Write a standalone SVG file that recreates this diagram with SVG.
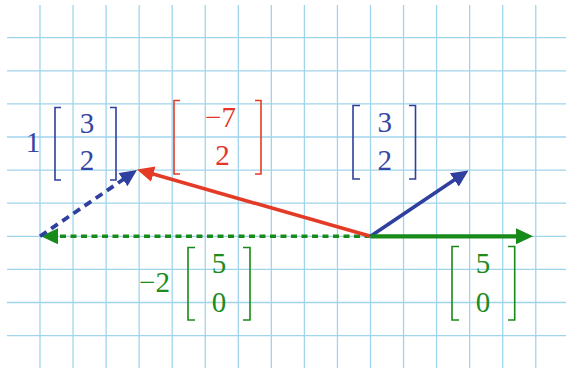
<svg xmlns="http://www.w3.org/2000/svg" width="566" height="368" viewBox="0 0 566 368">
<style>
.grid line{stroke:#9fd5ec;stroke-width:1.3}
.vec{fill:none;stroke-linecap:butt}
.blue{stroke:#2f3f9f}
.red{stroke:#e43b27}
.green{stroke:#188a1a}
.br{fill:none;stroke-width:1.6}
.lbl text{font-size:29px;text-anchor:middle}
.tb{fill:#3545a5}
.tr{fill:#e5352a}
.tg{fill:#1c8c1c}
</style>
<defs>
<marker id="ab" markerUnits="userSpaceOnUse" markerWidth="18" markerHeight="16" refX="2" refY="8" orient="auto" viewBox="0 0 18 16"><path d="M0,0 L17,8 L0,16 z" fill="#2f3f9f"/></marker>
<marker id="ar" markerUnits="userSpaceOnUse" markerWidth="18" markerHeight="16" refX="2" refY="8" orient="auto" viewBox="0 0 18 16"><path d="M0,0 L17,8 L0,16 z" fill="#e43b27"/></marker>
<marker id="ag" markerUnits="userSpaceOnUse" markerWidth="18" markerHeight="16" refX="2" refY="8" orient="auto" viewBox="0 0 18 16"><path d="M0,0 L17,8 L0,16 z" fill="#188a1a"/></marker>
</defs>
<rect width="566" height="368" fill="#fff"/>
<g id="grid" class="grid">
<line x1="40" y1="5" x2="40" y2="368"/>
<line x1="73.05" y1="5" x2="73.05" y2="368"/>
<line x1="106.1" y1="5" x2="106.1" y2="368"/>
<line x1="139.15" y1="5" x2="139.15" y2="368"/>
<line x1="172.2" y1="5" x2="172.2" y2="368"/>
<line x1="205.25" y1="5" x2="205.25" y2="368"/>
<line x1="238.3" y1="5" x2="238.3" y2="368"/>
<line x1="271.35" y1="5" x2="271.35" y2="368"/>
<line x1="304.4" y1="5" x2="304.4" y2="368"/>
<line x1="337.45" y1="5" x2="337.45" y2="368"/>
<line x1="370.5" y1="5" x2="370.5" y2="368"/>
<line x1="403.55" y1="5" x2="403.55" y2="368"/>
<line x1="436.6" y1="5" x2="436.6" y2="368"/>
<line x1="469.65" y1="5" x2="469.65" y2="368"/>
<line x1="502.7" y1="5" x2="502.7" y2="368"/>
<line x1="535.75" y1="5" x2="535.75" y2="368"/>
<line x1="7" y1="37.7" x2="566" y2="37.7"/>
<line x1="7" y1="70.8" x2="566" y2="70.8"/>
<line x1="7" y1="103.9" x2="566" y2="103.9"/>
<line x1="7" y1="137" x2="566" y2="137"/>
<line x1="7" y1="170.1" x2="566" y2="170.1"/>
<line x1="7" y1="203.2" x2="566" y2="203.2"/>
<line x1="7" y1="236.3" x2="566" y2="236.3"/>
<line x1="7" y1="269.4" x2="566" y2="269.4"/>
<line x1="7" y1="302.5" x2="566" y2="302.5"/>
<line x1="7" y1="335.6" x2="566" y2="335.6"/>
</g>
<g id="connectors">
<path class="vec green" d="M370.5,236.3 H56" stroke-width="3.5" stroke-dasharray="6,4.5" marker-end="url(#ag)"/>
<path class="vec blue" d="M40,236.3 L124.6,178.5" stroke-width="3.8" stroke-dasharray="8,5.5" marker-end="url(#ab)"/>
<path class="vec red" d="M370.5,236.3 L151.4,173.6" stroke-width="3.6" marker-end="url(#ar)"/>
<path class="vec blue" d="M370.5,236.3 L456,178.8" stroke-width="3.6" marker-end="url(#ab)"/>
<path class="vec green" d="M370.5,236.3 H518" stroke-width="4.2" marker-end="url(#ag)"/>
</g>
<g class="lbl" font-family="'Liberation Serif', 'Times New Roman', Times, serif">
<g id="label-1v">
<text class="tb" x="33" y="152">1</text>
<path class="br blue" d="M61,107.5 H55 V180 H61 M110,107.5 H116 V180 H110"/>
<text class="tb" x="87" y="133">3</text>
<text class="tb" x="87" y="170">2</text>
</g>
<g id="label-w">
<path class="br red" d="M180,100.5 H174 V174 H180 M255,100.5 H261 V174 H255"/>
<text class="tr" x="220.5" y="127">−7</text>
<text class="tr" x="222.5" y="165">2</text>
</g>
<g id="label-v">
<path class="br blue" d="M360,105.5 H353 V179 H360 M409,105.5 H415.5 V179 H409"/>
<text class="tb" x="384.7" y="132">3</text>
<text class="tb" x="384.7" y="170">2</text>
</g>
<g id="label-m2u">
<text class="tg" x="154.5" y="292">−2</text>
<path class="br green" d="M195,247.5 H188 V320 H195 M243,247.5 H250 V320 H243"/>
<text class="tg" x="219" y="273">5</text>
<text class="tg" x="219" y="312">0</text>
</g>
<g id="label-u">
<path class="br green" d="M459,246.5 H452 V320 H459 M508,246.5 H514.7 V320 H508"/>
<text class="tg" x="483" y="273">5</text>
<text class="tg" x="483" y="312">0</text>
</g>
</g>
</svg>
